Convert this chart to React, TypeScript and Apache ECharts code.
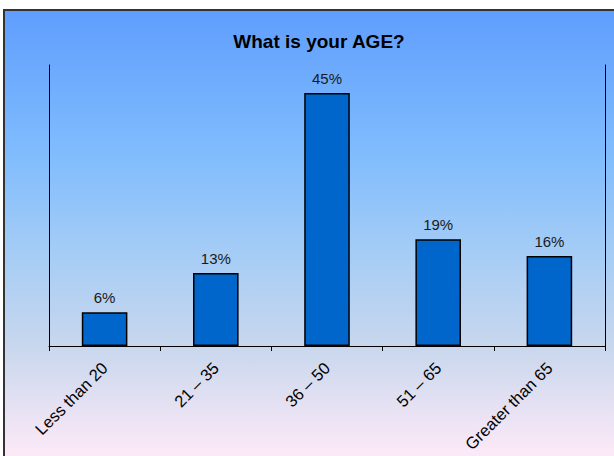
import React, { useEffect, useRef } from "react";
import * as echarts from "echarts";

const categories = ["Less than 20", "21 – 35", "36 – 50", "51 – 65", "Greater than 65"];
const values = [6, 13, 45, 19, 16];
const titleText = "What is your AGE?";

export default function App() {
  const ref = useRef<HTMLDivElement>(null);
  useEffect(() => {
    document.body.style.margin = "0";
    const chart = echarts.init(ref.current!, null, { renderer: "svg" });
    chart.setOption({
      animation: false,
      backgroundColor: "#ffffff",
      graphic: [
        {
          type: "rect",
          z: -10,
          silent: true,
          shape: { x: 4, y: 10, width: 640, height: 480 },
          style: {
            fill: new echarts.graphic.LinearGradient(0, 0, 0, 1, [
              { offset: 0, color: "#5f9efe" },
              { offset: 0.3, color: "#80bcfd" },
              { offset: 0.5, color: "#a4ccf6" },
              { offset: 0.7, color: "#c8d7ed" },
              { offset: 0.92, color: "#fbe9f7" },
              { offset: 1, color: "#fdebf9" },
            ]),
            stroke: "#333333",
            lineWidth: 2,
          },
        },
      ],
      title: {
        text: titleText,
        left: 314,
        textAlign: "center",
        top: 27,
        textStyle: { fontFamily: "Liberation Sans, Arial", fontSize: 19, fontWeight: "bold", color: "#000" },
      },
      grid: { left: 49, right: 9, top: 65, bottom: 110, containLabel: false },
      xAxis: {
        type: "category",
        data: categories,
        boundaryGap: true,
        axisLine: { show: true, lineStyle: { color: "#000", width: 1 } },
        axisTick: { show: true, length: 5, lineStyle: { color: "#000" } },
        axisLabel: {
          rotate: 45,
          interval: 0,
          margin: 19,
          fontFamily: "Liberation Sans, Arial",
          fontSize: 16.5,
          color: "#000",
        },
      },
      yAxis: [
        {
          type: "value",
          min: 0,
          max: 50,
          axisLine: { show: true, lineStyle: { color: "#000", width: 1 } },
          axisTick: { show: false },
          axisLabel: { show: false },
          splitLine: { show: false },
        },
        {
          type: "value",
          min: 0,
          max: 50,
          position: "right",
          axisLine: { show: true, lineStyle: { color: "#000", width: 1 } },
          axisTick: { show: false },
          axisLabel: { show: false },
          splitLine: { show: false },
        },
      ],
      series: [
        {
          type: "bar",
          data: values,
          barWidth: "41%",
          itemStyle: { color: "#0066cc", borderColor: "#000", borderWidth: 1.5 },
          label: {
            show: true,
            position: "top",
            distance: 7,
            formatter: "{c}%",
            fontFamily: "Liberation Sans, Arial",
            fontSize: 15,
            color: "#1a1a1a",
          },
        },
      ],
    });
    return () => chart.dispose();
  }, []);
  return <div ref={ref} style={{ width: 614, height: 456 }} />;
}
